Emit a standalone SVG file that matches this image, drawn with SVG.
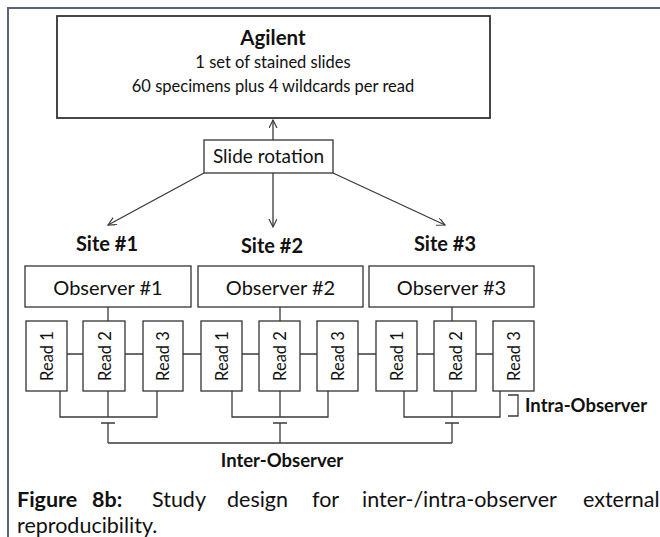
<svg xmlns="http://www.w3.org/2000/svg" width="660" height="537" viewBox="0 0 660 537">
<defs>
<style>
.t{font-family:Lato,"Liberation Sans",sans-serif;fill:#111;}
.b{font-weight:bold;}
.r{font-size:16.5px;}
.box{fill:#fff;stroke:#333;stroke-width:1.3;}
.ln{fill:none;stroke:#3a3a3a;stroke-width:1.3;}
.frame{fill:none;stroke:#56657a;stroke-width:2;}
</style>
<marker id="arr" markerWidth="10" markerHeight="10" refX="8" refY="4" orient="auto" markerUnits="userSpaceOnUse">
<path d="M0,0 L8,4 L0,8" fill="none" stroke="#3a3a3a" stroke-width="1.2"/>
</marker>
</defs>
<rect width="660" height="537" fill="#fff"/>
<path class="frame" d="M8,537 L8,8 L660,8"/>

<g id="connectors">
<line class="ln" x1="273" y1="140" x2="273" y2="120" marker-end="url(#arr)"/>
<line class="ln" x1="204" y1="173" x2="108" y2="225" marker-end="url(#arr)"/>
<line class="ln" x1="273" y1="173" x2="273" y2="227" marker-end="url(#arr)"/>
<line class="ln" x1="333" y1="173" x2="445" y2="225" marker-end="url(#arr)"/>
<line class="ln" x1="26" y1="354" x2="534" y2="354"/>
<line class="ln" x1="108" y1="307" x2="108" y2="321"/>
<line class="ln" x1="280" y1="307" x2="280" y2="321"/>
<line class="ln" x1="452" y1="307" x2="452" y2="321"/>
<path class="ln" d="M60,391 V417 H157 V391 M108,391 V417"/>
<path class="ln" d="M232,391 V417 H328 V391 M280,391 V417"/>
<path class="ln" d="M404,391 V417 H500 V391 M452,391 V417"/>
<path class="ln" d="M101,423 H115 M108,423 V443 M273,423 H287 M280,423 V443 M445,423 H459 M452,423 V443 M108,443 H452"/>
<path class="ln" d="M508,395 H518 V416 H508"/>
</g>

<g id="agilent">
<rect x="57" y="16" width="433" height="102" fill="#fff" stroke="#333" stroke-width="1.8"/>
<text class="t b" x="273" y="45" font-size="20.5" text-anchor="middle">Agilent</text>
<text class="t" x="273" y="68" font-size="16.5" text-anchor="middle">1 set of stained slides</text>
<text class="t" x="273" y="92" font-size="16.5" text-anchor="middle">60 specimens plus 4 wildcards per read</text>
</g>

<g id="slide-rotation">
<rect class="box" x="204" y="140" width="129" height="33"/>
<text class="t" x="268.5" y="163" font-size="19" text-anchor="middle">Slide rotation</text>
</g>

<g id="site1"><text class="t b" x="107" y="251" font-size="20" text-anchor="middle">Site #1</text></g>
<g id="site2"><text class="t b" x="272" y="253" font-size="20" text-anchor="middle">Site #2</text></g>
<g id="site3"><text class="t b" x="445" y="251" font-size="20" text-anchor="middle">Site #3</text></g>

<g id="observer1">
<rect class="box" x="25" y="266" width="166" height="41"/>
<text class="t" x="108" y="295" font-size="20" text-anchor="middle">Observer #1</text>
</g>
<g id="observer2">
<rect class="box" x="198" y="266" width="165" height="41"/>
<text class="t" x="280.5" y="295" font-size="20" text-anchor="middle">Observer #2</text>
</g>
<g id="observer3">
<rect class="box" x="369" y="266" width="165" height="41"/>
<text class="t" x="451.5" y="295" font-size="20" text-anchor="middle">Observer #3</text>
</g>

<g id="s1-read1"><rect class="box" x="26" y="321" width="41" height="70"/><text class="t r" transform="translate(52.5,356) rotate(-90)" text-anchor="middle">Read 1</text></g>
<g id="s1-read2"><rect class="box" x="83" y="321" width="42" height="70"/><text class="t r" transform="translate(110.5,356) rotate(-90)" text-anchor="middle">Read 2</text></g>
<g id="s1-read3"><rect class="box" x="143" y="321" width="40" height="70"/><text class="t r" transform="translate(168.5,356) rotate(-90)" text-anchor="middle">Read 3</text></g>
<g id="s2-read1"><rect class="box" x="201" y="321" width="41" height="70"/><text class="t r" transform="translate(227.5,356) rotate(-90)" text-anchor="middle">Read 1</text></g>
<g id="s2-read2"><rect class="box" x="259" y="321" width="41" height="70"/><text class="t r" transform="translate(285.5,356) rotate(-90)" text-anchor="middle">Read 2</text></g>
<g id="s2-read3"><rect class="box" x="317" y="321" width="41" height="70"/><text class="t r" transform="translate(343.5,356) rotate(-90)" text-anchor="middle">Read 3</text></g>
<g id="s3-read1"><rect class="box" x="376" y="321" width="41" height="70"/><text class="t r" transform="translate(402.5,356) rotate(-90)" text-anchor="middle">Read 1</text></g>
<g id="s3-read2"><rect class="box" x="434" y="321" width="42" height="70"/><text class="t r" transform="translate(461.5,356) rotate(-90)" text-anchor="middle">Read 2</text></g>
<g id="s3-read3"><rect class="box" x="493" y="321" width="41" height="70"/><text class="t r" transform="translate(519.5,356) rotate(-90)" text-anchor="middle">Read 3</text></g>

<g id="intra-label"><text class="t b" x="525" y="412" font-size="18.5">Intra-Observer</text></g>
<g id="inter-label"><text class="t b" x="282" y="467" font-size="18.5" text-anchor="middle">Inter-Observer</text></g>

<g id="caption">
<text class="t" y="507" font-size="21.5" fill="#1a1a1a"><tspan class="b" x="17">Figure</tspan><tspan class="b" x="92">8b:</tspan><tspan x="152">Study</tspan><tspan x="227">design</tspan><tspan x="312">for</tspan><tspan x="362">inter-/intra-observer</tspan><tspan x="583">external</tspan></text>
<text class="t" x="17" y="533" font-size="21.5">reproducibility.</text>
</g>
</svg>
